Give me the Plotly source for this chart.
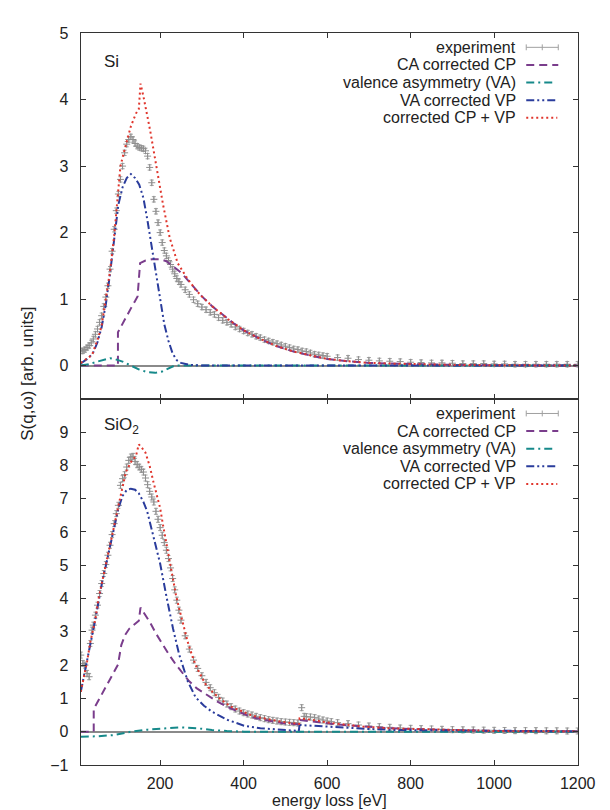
import plotly.graph_objects as go

W, H = 610, 810


def px(x):
    return x / W


def py(y):
    return 1 - y / H


# ---------------- Si (top panel) ----------------
si_exp_e = [10, 15, 20, 25, 30, 35, 40, 45, 50, 55, 60, 65, 70, 75, 80, 85, 90, 95, 100, 105,
            110, 115, 120, 125, 130, 135, 140, 145, 150, 155, 160, 165, 170, 175, 180, 185, 190,
            195, 200, 205, 210, 215, 220, 225, 230, 235, 240, 245, 250, 260, 270, 280, 290, 300,
            310, 320, 330, 340, 350, 360, 370, 380, 390, 400, 410, 420, 430, 440, 450, 460, 470,
            480, 490, 500, 510, 520, 530, 540, 550, 560, 570, 580, 590, 600, 625, 650, 675, 700,
            725, 750, 775, 800, 825, 850, 875, 900, 925, 950, 975, 1000, 1025, 1050, 1075, 1100,
            1125, 1150, 1175, 1200]
si_exp_s = [0.22, 0.22, 0.24, 0.27, 0.30, 0.34, 0.40, 0.47, 0.55, 0.65, 0.75, 0.89, 1.03, 1.20,
            1.45, 1.72, 2.05, 2.33, 2.58, 2.80, 3.00, 3.20, 3.33, 3.40, 3.44, 3.40, 3.34, 3.30,
            3.28, 3.27, 3.26, 3.23, 3.15, 2.98, 2.75, 2.50, 2.32, 2.15, 2.00, 1.85, 1.73, 1.65,
            1.58, 1.52, 1.45, 1.38, 1.31, 1.26, 1.22, 1.14, 1.07, 0.99, 0.93, 0.88, 0.84, 0.80,
            0.77, 0.72, 0.68, 0.65, 0.62, 0.58, 0.55, 0.52, 0.49, 0.47, 0.44, 0.42, 0.39, 0.37,
            0.35, 0.33, 0.31, 0.29, 0.27, 0.25, 0.24, 0.22, 0.21, 0.19, 0.17, 0.16, 0.15, 0.14,
            0.12, 0.11, 0.09, 0.08, 0.07, 0.065, 0.06, 0.05, 0.045, 0.04, 0.04, 0.035, 0.03, 0.03,
            0.03, 0.025, 0.025, 0.02, 0.02, 0.02, 0.02, 0.02, 0.02, 0.02]

si_cp_e = [10, 99, 99, 110, 120, 130, 140, 146, 152, 165, 180, 200, 215, 230, 246, 260, 285, 300,
           325, 350, 375, 400, 440, 480, 520, 560, 600, 650, 700, 750, 800, 900, 1000, 1200]
si_cp_s = [0, 0, 0.5, 0.62, 0.75, 0.86, 0.97, 1.04, 1.54, 1.58, 1.60, 1.60, 1.57, 1.50, 1.42,
           1.33, 1.14, 1.04, 0.89, 0.76, 0.64, 0.53, 0.40, 0.29, 0.21, 0.15, 0.10, 0.065, 0.04,
           0.03, 0.02, 0.01, 0.005, 0]

si_va_e = [10, 30, 50, 70, 80, 90, 110, 130, 150, 170, 188, 205, 220, 235, 1200]
si_va_s = [0, 0.02, 0.06, 0.10, 0.11, 0.10, 0.06, 0.0, -0.06, -0.10, -0.11, -0.09, -0.04, 0.0, 0]

si_vp_e = [10, 20, 30, 40, 50, 60, 70, 80, 90, 100, 110, 120, 130, 140, 150, 160, 170, 180, 190,
           200, 210, 220, 230, 240, 250, 270, 300, 1200]
si_vp_s = [0.03, 0.07, 0.12, 0.20, 0.35, 0.58, 0.92, 1.38, 1.92, 2.42, 2.68, 2.82, 2.88, 2.82,
           2.72, 2.52, 2.17, 1.78, 1.35, 0.95, 0.62, 0.37, 0.18, 0.08, 0.04, 0.01, 0, 0]

si_tot_e = [10, 20, 30, 37, 45, 52, 60, 70, 80, 90, 99, 105, 115, 130, 142, 149, 153, 160, 176,
            192, 207, 223, 242, 262, 285, 300, 325, 362, 400, 440, 480, 520, 560, 600, 650, 700,
            750, 800, 900, 1000, 1200]
si_tot_s = [0.04, 0.08, 0.13, 0.16, 0.30, 0.42, 0.60, 0.98, 1.42, 1.95, 2.60, 3.00, 3.25, 3.60,
            3.79, 3.86, 4.24, 4.05, 3.54, 2.95, 2.42, 1.92, 1.54, 1.34, 1.14, 1.04, 0.89, 0.70,
            0.53, 0.40, 0.29, 0.21, 0.15, 0.10, 0.065, 0.04, 0.03, 0.02, 0.01, 0.005, 0]

# ---------------- SiO2 (bottom panel) ----------------
sio2_exp_e = [10, 15, 20, 25, 30, 33, 37, 40, 45, 50, 55, 60, 65, 70, 75, 80, 85, 90, 95, 100,
              105, 110, 115, 120, 125, 130, 135, 140, 145, 150, 155, 160, 165, 170, 175, 180,
              185, 190, 195, 200, 205, 210, 215, 220, 225, 230, 235, 240, 245, 250, 260, 270,
              280, 290, 300, 310, 320, 330, 340, 350, 360, 370, 380, 390, 400, 410, 420, 430,
              440, 450, 460, 470, 480, 490, 500, 510, 520, 530, 539, 545, 550, 560, 570, 580,
              590, 600, 610, 625, 650, 675, 700, 725, 750, 775, 800, 825, 850, 875, 900, 925,
              950, 975, 1000, 1025, 1050, 1075, 1100, 1125, 1150, 1175, 1200]
sio2_exp_s = [2.30, 2.05, 2.00, 1.75, 1.65, 2.65, 3.05, 3.20, 3.50, 3.80, 4.15, 4.45, 4.75, 5.02,
              5.30, 5.60, 5.92, 6.25, 6.55, 6.80, 7.40, 7.60, 7.72, 7.95, 8.15, 8.25, 8.27, 8.12,
              8.02, 7.95, 7.88, 7.80, 7.62, 7.42, 7.22, 7.05, 6.90, 6.62, 6.38, 6.13, 5.90, 5.68,
              5.45, 5.20, 4.92, 4.60, 4.26, 3.95, 3.65, 3.35, 2.88, 2.48, 2.15, 1.90, 1.68, 1.48,
              1.32, 1.17, 1.03, 0.92, 0.83, 0.75, 0.68, 0.62, 0.57, 0.53, 0.50, 0.46, 0.42, 0.39,
              0.36, 0.34, 0.32, 0.30, 0.29, 0.28, 0.27, 0.26, 0.72, 0.46, 0.45, 0.44, 0.42, 0.38,
              0.35, 0.32, 0.30, 0.27, 0.24, 0.20, 0.17, 0.15, 0.13, 0.11, 0.10, 0.09, 0.08, 0.07,
              0.06, 0.055, 0.05, 0.045, 0.04, 0.035, 0.03, 0.03, 0.03, 0.025, 0.025, 0.02, 0.02]

sio2_cp_e = [10, 41, 41, 55, 68, 85, 99, 107, 116, 126, 140, 149, 153, 165, 176, 190, 207, 222,
             238, 255, 269, 288, 308, 335, 362, 400, 417, 440, 479, 494, 520, 533, 534, 560, 610,
             650, 700, 750, 800, 900, 1000, 1200]
sio2_cp_s = [0, 0, 0.68, 1.00, 1.32, 1.70, 2.01, 2.60, 2.90, 3.09, 3.25, 3.33, 3.73, 3.50, 3.28,
             2.95, 2.60, 2.30, 2.01, 1.75, 1.52, 1.30, 1.13, 0.92, 0.74, 0.52, 0.44, 0.38, 0.28,
             0.25, 0.23, 0.22, 0.35, 0.32, 0.24, 0.19, 0.14, 0.10, 0.08, 0.04, 0.02, 0.01]

sio2_va_e = [10, 50, 91, 110, 130, 170, 207, 250, 290, 324, 360, 401, 1200]
sio2_va_s = [-0.15, -0.14, -0.10, -0.05, 0.0, 0.06, 0.10, 0.13, 0.10, 0.05, 0.02, 0.0, 0]

sio2_vp_e = [10, 25, 45, 60, 76, 90, 100, 110, 120, 130, 140, 149, 160, 169, 184, 200, 215, 231,
             246, 266, 285, 305, 324, 362, 401, 440, 479, 520, 532, 534, 560, 610, 649, 700, 765,
             850, 950, 1200]
sio2_vp_s = [1.20, 2.10, 3.38, 4.42, 5.34, 6.18, 6.70, 7.08, 7.26, 7.30, 7.27, 7.16, 6.90, 6.62,
             5.83, 5.05, 4.07, 3.09, 2.30, 1.52, 1.03, 0.78, 0.60, 0.35, 0.18, 0.10, 0.07, 0.04,
             0.02, 0.20, 0.18, 0.13, 0.10, 0.08, 0.05, 0.04, 0.02, 0.01]

sio2_tot_e = [10, 25, 33, 45, 52, 60, 76, 90, 99, 110, 118, 130, 142, 149, 155, 165, 175, 184,
              192, 200, 207, 215, 223, 231, 238, 246, 256, 266, 275, 285, 297, 308, 325, 347, 370,
              400, 417, 440, 479, 494, 520, 533, 534, 560, 610, 650, 688, 750, 804, 900, 1000,
              1100, 1200]
sio2_tot_s = [1.20, 2.10, 2.70, 3.38, 3.97, 4.42, 5.34, 6.18, 6.72, 7.40, 7.80, 8.10, 8.28, 8.63,
              8.55, 8.38, 7.98, 7.50, 7.10, 6.72, 6.20, 5.64, 5.10, 4.56, 4.10, 3.68, 3.15, 2.70,
              2.35, 2.00, 1.70, 1.44, 1.20, 0.95, 0.75, 0.58, 0.50, 0.42, 0.32, 0.29, 0.25, 0.23,
              0.40, 0.36, 0.26, 0.20, 0.15, 0.10, 0.08, 0.04, 0.02, 0.01, 0.01]

legend_labels = ["experiment", "CA corrected CP", "valence asymmetry (VA)",
                 "VA corrected VP", "corrected CP + VP"]
x_ticks = [200, 400, 600, 800, 1000, 1200]
si_y_ticks = [0, 1, 2, 3, 4, 5]
sio2_y_ticks = [-1, 0, 1, 2, 3, 4, 5, 6, 7, 8, 9]

# ---------------- styles ----------------
FONT = "Liberation Sans, Arial, Helvetica, sans-serif"
C_EXP = "#8f8f8f"
C_CP = "#7a3d8c"
C_VA = "#16898a"
C_VP = "#2a3c9c"
C_TOT = "#e0352c"
DASH_CP = "8px,5px"
DASH_VA = "8px,4px,2px,4px"
DASH_VP = "8px,3px,2px,3px,2px,3px"
DASH_TOT = "2px,3px"
AX_COL = "#333333"
TXT = "#222222"

fig = go.Figure()


def add_panel(xa, ya, exp_e, exp_s, err, cp, va, vp, tot):
    fig.add_trace(go.Scatter(
        x=exp_e, y=exp_s, mode="markers", xaxis=xa, yaxis=ya,
        marker=dict(symbol="cross-thin", size=5, color=C_EXP, line=dict(width=1, color=C_EXP)),
        error_y=dict(type="constant", value=err, color="#a0a0a0", thickness=1, width=2),
        showlegend=False))
    for (e, s), col, dash in [(cp, C_CP, DASH_CP), (va, C_VA, DASH_VA),
                              (vp, C_VP, DASH_VP), (tot, C_TOT, DASH_TOT)]:
        fig.add_trace(go.Scatter(
            x=e, y=s, mode="lines", xaxis=xa, yaxis=ya,
            line=dict(color=col, width=2, dash=dash), showlegend=False))


add_panel("x", "y", si_exp_e, si_exp_s, 0.04,
          (si_cp_e, si_cp_s), (si_va_e, si_va_s), (si_vp_e, si_vp_s), (si_tot_e, si_tot_s))
add_panel("x2", "y2", sio2_exp_e, sio2_exp_s, 0.09,
          (sio2_cp_e, sio2_cp_s), (sio2_va_e, sio2_va_s), (sio2_vp_e, sio2_vp_s),
          (sio2_tot_e, sio2_tot_s))

axis_common = dict(showline=True, linecolor=AX_COL, linewidth=1.2, mirror="ticks",
                   ticks="inside", ticklen=5, tickwidth=1, tickcolor=AX_COL, showgrid=False,
                   tickfont=dict(family=FONT, size=16, color=TXT))
xdom = [px(75), px(587)]

fig.update_layout(
    width=W, height=H, margin=dict(l=0, r=0, t=0, b=0),
    paper_bgcolor="white", plot_bgcolor="white", showlegend=False,
    xaxis=dict(domain=xdom, range=[10, 1200], anchor="y", tickvals=x_ticks,
               showticklabels=False, zeroline=False, **axis_common),
    yaxis=dict(domain=[py(391), py(17.5)], range=[-0.5, 5], anchor="x", tickvals=si_y_ticks,
               zeroline=True, zerolinecolor="#8a8a8a", zerolinewidth=1.5,
               ticklabelstandoff=8, **axis_common),
    xaxis2=dict(domain=xdom, range=[10, 1200], anchor="y2", tickvals=x_ticks,
                zeroline=False, ticklabelstandoff=4, **axis_common),
    yaxis2=dict(domain=[py(765), py(391)], range=[-1, 10], anchor="x2", tickvals=sio2_y_ticks,
                zeroline=True, zerolinecolor="#8a8a8a", zerolinewidth=1.5,
                ticklabelstandoff=8, **axis_common),
)

annotations = []
shapes = []

# axis titles
annotations.append(dict(text="S(q,ω) [arb. units]", x=px(20), y=py(365), xref="paper",
                        yref="paper", showarrow=False, textangle=-90, xanchor="center",
                        yanchor="middle", font=dict(family=FONT, size=17, color=TXT)))
annotations.append(dict(text="energy loss [eV]", x=px(331), y=py(801), xref="paper",
                        yref="paper", showarrow=False, xanchor="center", yanchor="middle",
                        borderpad=0, font=dict(family=FONT, size=16, color=TXT)))
# panel labels
annotations.append(dict(text="Si", x=px(97), y=py(46), xref="paper", yref="paper",
                        showarrow=False, xanchor="left", yanchor="middle",
                        font=dict(family=FONT, size=17, color=TXT)))
annotations.append(dict(text="SiO<sub>2</sub>", x=px(97), y=py(419), xref="paper",
                        yref="paper", showarrow=False, xanchor="left", yanchor="middle",
                        font=dict(family=FONT, size=17, color=TXT)))

# legends (text right-aligned, sample on the right, as in gnuplot)
sample_styles = [(C_EXP, None, 567), (C_CP, DASH_CP, 567), (C_VA, DASH_VA, 562),
                 (C_VP, DASH_VP, 567), (C_TOT, DASH_TOT, 566)]
for rows in ([32, 50, 68, 86, 104], [406, 424, 442, 460, 478]):
    for label, yrow, (col, dash, xend) in zip(legend_labels, rows, sample_styles):
        annotations.append(dict(text=label, x=px(524), y=py(yrow), xref="paper", yref="paper",
                                showarrow=False, xanchor="right", yanchor="middle",
                                borderpad=0, font=dict(family=FONT, size=16, color=TXT)))
        if dash is None:
            shapes.append(dict(type="line", xref="paper", yref="paper", x0=px(534), x1=px(xend),
                               y0=py(yrow), y1=py(yrow), line=dict(color="#a0a0a0", width=1)))
            for xc in (534, xend, (534 + xend) / 2):
                shapes.append(dict(type="line", xref="paper", yref="paper", x0=px(xc),
                                   x1=px(xc), y0=py(yrow - 3), y1=py(yrow + 3),
                                   line=dict(color="#a0a0a0", width=1)))
        else:
            shapes.append(dict(type="line", xref="paper", yref="paper", x0=px(534), x1=px(xend),
                               y0=py(yrow), y1=py(yrow), line=dict(color=col, width=2, dash=dash)))

fig.update_layout(annotations=annotations, shapes=shapes)
fig.write_html("out.html")
